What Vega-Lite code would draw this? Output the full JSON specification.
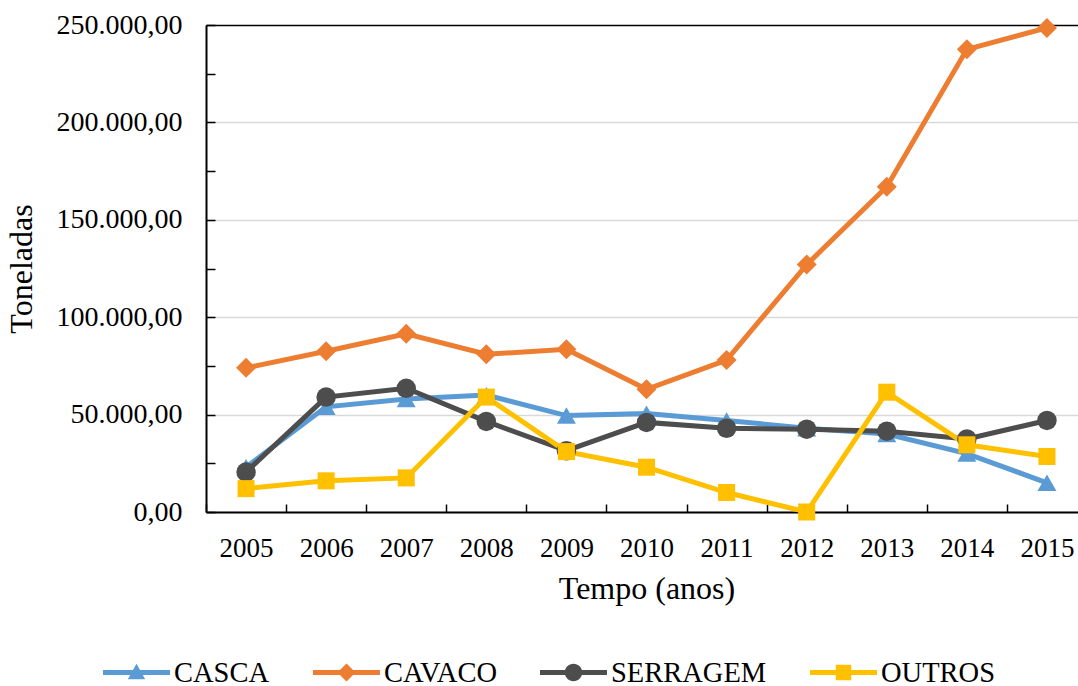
{
  "$schema": "https://vega.github.io/schema/vega-lite/v6.json",
  "autosize": {"type": "none"},
  "padding": {"left": 206, "top": 25, "right": 0, "bottom": 174},
  "width": 872,
  "height": 487,
  "background": "white",
  "config": {
    "locale": {"number": {"decimal": ",", "thousands": ".", "grouping": [3], "currency": ["R$", ""]}},
    "font": "Liberation Serif",
    "view": {"stroke": null},
    "legend": {"labelFont": "Liberation Serif", "labelFontSize": 28.5, "labelColor": "#000000"}
  },
  "data": {
    "values": [
      {"ano": "2005", "serie": "CASCA", "valor": 23000},
      {"ano": "2006", "serie": "CASCA", "valor": 54000},
      {"ano": "2007", "serie": "CASCA", "valor": 58000},
      {"ano": "2008", "serie": "CASCA", "valor": 60000},
      {"ano": "2009", "serie": "CASCA", "valor": 49500},
      {"ano": "2010", "serie": "CASCA", "valor": 50500},
      {"ano": "2011", "serie": "CASCA", "valor": 47000},
      {"ano": "2012", "serie": "CASCA", "valor": 43000},
      {"ano": "2013", "serie": "CASCA", "valor": 40000},
      {"ano": "2014", "serie": "CASCA", "valor": 30000},
      {"ano": "2015", "serie": "CASCA", "valor": 15000},
      {"ano": "2005", "serie": "CAVACO", "valor": 74000},
      {"ano": "2006", "serie": "CAVACO", "valor": 82500},
      {"ano": "2007", "serie": "CAVACO", "valor": 91500},
      {"ano": "2008", "serie": "CAVACO", "valor": 81000},
      {"ano": "2009", "serie": "CAVACO", "valor": 83500},
      {"ano": "2010", "serie": "CAVACO", "valor": 63000},
      {"ano": "2011", "serie": "CAVACO", "valor": 78000},
      {"ano": "2012", "serie": "CAVACO", "valor": 127000},
      {"ano": "2013", "serie": "CAVACO", "valor": 167000},
      {"ano": "2014", "serie": "CAVACO", "valor": 237500},
      {"ano": "2015", "serie": "CAVACO", "valor": 248500},
      {"ano": "2005", "serie": "SERRAGEM", "valor": 20500},
      {"ano": "2006", "serie": "SERRAGEM", "valor": 59000},
      {"ano": "2007", "serie": "SERRAGEM", "valor": 63500},
      {"ano": "2008", "serie": "SERRAGEM", "valor": 46500},
      {"ano": "2009", "serie": "SERRAGEM", "valor": 31500},
      {"ano": "2010", "serie": "SERRAGEM", "valor": 46000},
      {"ano": "2011", "serie": "SERRAGEM", "valor": 43000},
      {"ano": "2012", "serie": "SERRAGEM", "valor": 42500},
      {"ano": "2013", "serie": "SERRAGEM", "valor": 41500},
      {"ano": "2014", "serie": "SERRAGEM", "valor": 37500},
      {"ano": "2015", "serie": "SERRAGEM", "valor": 47000},
      {"ano": "2005", "serie": "OUTROS", "valor": 12000},
      {"ano": "2006", "serie": "OUTROS", "valor": 16000},
      {"ano": "2007", "serie": "OUTROS", "valor": 17500},
      {"ano": "2008", "serie": "OUTROS", "valor": 59000},
      {"ano": "2009", "serie": "OUTROS", "valor": 31000},
      {"ano": "2010", "serie": "OUTROS", "valor": 23000},
      {"ano": "2011", "serie": "OUTROS", "valor": 10000},
      {"ano": "2012", "serie": "OUTROS", "valor": 0},
      {"ano": "2013", "serie": "OUTROS", "valor": 61500},
      {"ano": "2014", "serie": "OUTROS", "valor": 34500},
      {"ano": "2015", "serie": "OUTROS", "valor": 28500}
    ]
  },
  "encoding": {
    "x": {
      "field": "ano", "type": "ordinal",
      "scale": {"type": "band", "paddingInner": 0, "paddingOuter": 0, "range": [0, 881]},
      "axis": {
        "title": "Tempo (anos)", "titleFont": "Liberation Serif", "titleFontSize": 32, "titleFontWeight": "normal", "titleColor": "#000000", "titlePadding": 12,
        "labelFont": "Liberation Serif", "labelFontSize": 27, "labelColor": "#000000", "labelAngle": 0, "labelPadding": 31,
        "tickBand": "extent", "tickSize": -8, "tickColor": "#000000", "tickWidth": 1.5,
        "domainColor": "#000000", "domainWidth": 2, "grid": false
      }
    },
    "y": {
      "field": "valor", "type": "quantitative",
      "scale": {"domain": [0, 250000], "nice": false},
      "axis": {
        "title": "Toneladas", "titleFont": "Liberation Serif", "titleFontSize": 32, "titleFontWeight": "normal", "titleColor": "#000000", "titlePadding": 18,
        "values": [0, 25000, 50000, 75000, 100000, 125000, 150000, 175000, 200000, 225000, 250000],
        "format": ",.2f",
        "labelExpr": "datum.value % 50000 == 0 ? datum.label : ''",
        "labelFont": "Liberation Serif", "labelFontSize": 28, "labelColor": "#000000", "labelPadding": 33,
        "tickSize": -9, "tickColor": "#000000", "tickWidth": 1.5,
        "domainColor": "#000000", "domainWidth": 2,
        "grid": true,
        "gridColor": {"condition": [{"test": "datum.value === 250000", "value": "#000000"}, {"test": "datum.value % 50000 !== 0", "value": "rgba(0,0,0,0)"}], "value": "#d9d9d9"},
        "gridWidth": 1.5
      }
    },
    "color": {
      "field": "serie", "type": "nominal",
      "scale": {"domain": ["CASCA", "CAVACO", "SERRAGEM", "OUTROS"], "range": ["#5B9BD5", "#ED7D31", "#4D4D4D", "#FFC000"]},
      "legend": {
        "orient": "none", "direction": "horizontal", "legendX": -103, "legendY": 614, "title": null,
        "symbolSize": 4489, "symbolStrokeWidth": 0, "symbolType": "circle",
        "labelFont": "Liberation Serif", "labelFontSize": 28.5, "labelColor": "#000000", "labelOffset": 4,
        "columnPadding": 43,
        "encode": {
          "symbols": {
            "update": {
              "fill": {"scale": "color", "field": "value"},
              "fillOpacity": {"value": 1},
              "strokeWidth": {"value": 0},
              "shape": {"signal": "datum.value == 'CASCA' ? 'M-1,-0.075H1V0.075H-1Z M0,-0.26L0.26,0.2L-0.26,0.2Z' : datum.value == 'CAVACO' ? 'M-1,-0.075H1V0.075H-1Z M0,-0.27L0.27,0L0,0.27L-0.27,0Z' : datum.value == 'SERRAGEM' ? 'M-1,-0.075H1V0.075H-1Z M0.26,0A0.26,0.26 0 1,1 -0.26,0A0.26,0.26 0 1,1 0.26,0Z' : 'M-1,-0.075H1V0.075H-1Z M-0.23,-0.23H0.23V0.23H-0.23Z'"}
            }
          }
        }
      }
    }
  },
  "layer": [
    {"mark": {"type": "line", "strokeWidth": 5}},
    {"transform": [{"filter": "datum.serie == 'CASCA'"}], "mark": {"type": "point", "filled": true, "opacity": 1, "shape": "triangle-up", "size": 360}},
    {"transform": [{"filter": "datum.serie == 'CAVACO'"}], "mark": {"type": "point", "filled": true, "opacity": 1, "shape": "diamond", "size": 400}},
    {"transform": [{"filter": "datum.serie == 'SERRAGEM'"}], "mark": {"type": "point", "filled": true, "opacity": 1, "shape": "circle", "size": 380}},
    {"transform": [{"filter": "datum.serie == 'OUTROS'"}], "mark": {"type": "point", "filled": true, "opacity": 1, "shape": "square", "size": 290}}
  ]
}
